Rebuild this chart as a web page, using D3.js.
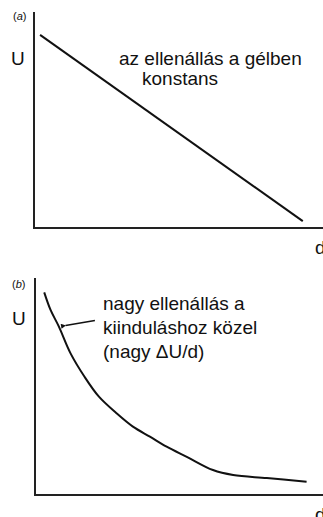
<!DOCTYPE html>
<html>
<head>
<meta charset="utf-8">
<script src="https://cdn.jsdelivr.net/npm/d3@7"></script>
<style>
  html, body { margin: 0; padding: 0; background: #fff; overflow: hidden; }
  svg { display: block; }
  text { font-family: "Liberation Sans", Arial, Helvetica, sans-serif; fill: #111; }
</style>
</head>
<body>
<svg id="chart" width="323" height="517"></svg>
<script>
// Panel (a): potential falls linearly with distance (constant gel resistance)
const linearD = [2.1, 93.0];
const linearU = [89.4, 3.2];

// Panel (b): potential falls steeply near the start, then levels off
const curveD = [3.2, 5.4, 8.3, 12.3, 17.2, 22.2, 28.2, 34.0, 39.9, 45.7, 52.7, 61.8, 68.8, 80.5, 94.3];
const curveU = [93.4, 85.3, 77.6, 65.4, 54.5, 45.3, 37.8, 31.5, 26.9, 22.3, 17.6, 11.5, 9.2, 7.8, 6.1];

// Arrow in panel (b), from the note toward the steep part of the curve
const arrowD = [20.8, 10.6];
const arrowU = [80.4, 78.1];

const panelLabels = ["a", "b"];
const axisLabelY = "U";
const axisLabelX = "d";
const noteA = ["az ellenállás a gélben", "konstans"];
const noteB = ["nagy ellenállás a", "kiinduláshoz közel", "(nagy \u0394U/d)"];

const svg = d3.select("#chart");

svg.append("defs").append("marker")
  .attr("id", "arrowhead")
  .attr("viewBox", "0 0 10 10")
  .attr("refX", 1).attr("refY", 5)
  .attr("markerWidth", 8).attr("markerHeight", 5)
  .attr("markerUnits", "userSpaceOnUse")
  .attr("orient", "auto-start-reverse")
  .append("path").attr("d", "M0,5 L10,0 L10,10 Z").attr("fill", "#111");

function drawFrame(g, x, y) {
  const [x0, x1] = x.range();
  const [y0, y1] = y.range();
  g.append("line")
    .attr("x1", x0).attr("x2", x0).attr("y1", y0).attr("y2", y1)
    .attr("stroke", "#222").attr("stroke-width", 2);
  g.append("line")
    .attr("x1", x0 - 1).attr("x2", x1).attr("y1", y0).attr("y2", y0)
    .attr("stroke", "#222").attr("stroke-width", 2);
}

// ---- Panel (a)
const xa = d3.scaleLinear().domain([0, 100]).range([34, 323]);
const ya = d3.scaleLinear().domain([0, 100]).range([228, 12]);
const ga = svg.append("g");
drawFrame(ga, xa, ya);

ga.append("path")
  .datum(d3.zip(linearD, linearU))
  .attr("d", d3.line().x(p => xa(p[0])).y(p => ya(p[1])))
  .attr("fill", "none").attr("stroke", "#111").attr("stroke-width", 2);

ga.append("text").attr("x", 13).attr("y", 20)
  .attr("font-size", 11)
  .html(`(<tspan font-style="italic">${panelLabels[0]}</tspan>)`);
ga.append("text").attr("x", 11).attr("y", 65).attr("font-size", 19).text(axisLabelY);
ga.append("text").attr("x", 315).attr("y", 254).attr("font-size", 19).text(axisLabelX);

ga.append("text").attr("x", 119).attr("y", 65).attr("font-size", 19).text(noteA[0]);
ga.append("text").attr("x", 142).attr("y", 85).attr("font-size", 19).text(noteA[1]);

// ---- Panel (b)
const xb = d3.scaleLinear().domain([0, 100]).range([35, 323]);
const yb = d3.scaleLinear().domain([0, 100]).range([495, 278]);
const gb = svg.append("g");
drawFrame(gb, xb, yb);

gb.append("path")
  .datum(d3.zip(curveD, curveU))
  .attr("d", d3.line().x(p => xb(p[0])).y(p => yb(p[1])).curve(d3.curveCatmullRom))
  .attr("fill", "none").attr("stroke", "#111").attr("stroke-width", 2);

gb.append("line")
  .attr("x1", xb(arrowD[0])).attr("y1", yb(arrowU[0]))
  .attr("x2", xb(arrowD[1])).attr("y2", yb(arrowU[1]))
  .attr("stroke", "#111").attr("stroke-width", 1.5)
  .attr("marker-end", "url(#arrowhead)");

gb.append("text").attr("x", 12).attr("y", 288)
  .attr("font-size", 11)
  .html(`(<tspan font-style="italic">${panelLabels[1]}</tspan>)`);
gb.append("text").attr("x", 12).attr("y", 325).attr("font-size", 19).text(axisLabelY);
gb.append("text").attr("x", 315).attr("y", 521).attr("font-size", 19).text(axisLabelX);

noteB.forEach((t, i) => {
  gb.append("text").attr("x", 103).attr("y", 310 + i * 24).attr("font-size", 19).text(t);
});
</script>
</body>
</html>
